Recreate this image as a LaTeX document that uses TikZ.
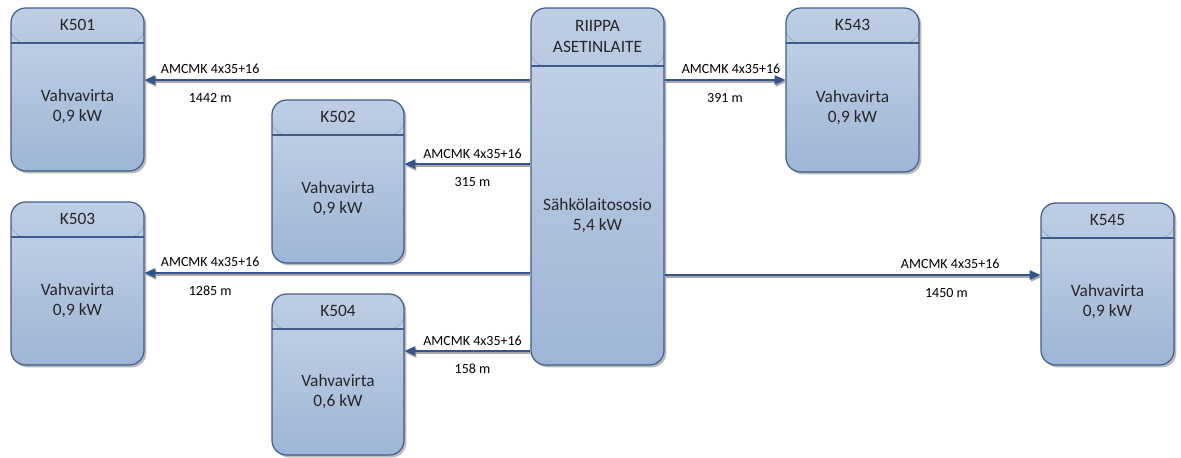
\documentclass[tikz,border=0pt]{standalone}
\usepackage{fontspec}
\setmainfont{Carlito}
\usetikzlibrary{arrows.meta,shadows,positioning}

\definecolor{edgeblue}{RGB}{60,92,140}
\definecolor{bodytop}{RGB}{198,212,232}
\definecolor{bodybot}{RGB}{158,181,213}
\definecolor{headtop}{RGB}{190,206,228}
\definecolor{headbot}{RGB}{154,178,211}
\definecolor{wireblue}{RGB}{52,84,140}

\tikzset{
  unit/.style={draw=edgeblue, line width=0.9pt, rounded corners=11pt,
    minimum width=99.75pt, minimum height=122.25pt, inner sep=0pt,
    top color=bodytop, bottom color=bodybot,
    drop shadow={shadow xshift=1.8pt, shadow yshift=-1.8pt, opacity=0.45, fill=black!60},
    path picture={
      \fill[top color=headtop, bottom color=headbot]
        (path picture bounding box.north west) rectangle ([yshift=-#1]path picture bounding box.north east);
      \draw[edgeblue, line width=0.9pt]
        ([yshift=-#1]path picture bounding box.north west) -- ([yshift=-#1]path picture bounding box.north east);
    }},
  unit/.default=26.25pt,
  title/.style={font=\fontsize{13}{16}\selectfont, align=center, text=black!85},
  body/.style={font=\fontsize{13}{15}\selectfont, align=center, text=black!85},
  feed/.style={wireblue, line width=0.9pt, -{Triangle[length=8pt,width=7pt]},
    preaction={draw=black!35, line width=1.1pt, transform canvas={shift={(0.8pt,-1.4pt)}}}},
  cable/.style={above=2pt, inner sep=2pt, font=\fontsize{10.5}{12}\selectfont, text=black},
  cablelen/.style={below=7.3pt, inner sep=2pt, font=\fontsize{10.5}{12}\selectfont, text=black},
}

\begin{document}
\begin{tikzpicture}[x=0.75pt, y=-0.75pt]
  \useasboundingbox (0,0) rectangle (1181,457);

  % main distribution board
  \node[unit=43.5pt, minimum height=267.75pt] (hub) at (597.5,186.5) {};
  \node[title] (hubt) at ([yshift=-21.75pt]hub.north) {RIIPPA\\ASETINLAITE};
  \node[body] (hubb) at ([yshift=-21.75pt]hub.center) {Sähkölaitososio\\5,4 kW};

  % left column
  \node[unit] (k501) at (77.5,89.5) {};
  \node[title] (k501t) at ([yshift=-13.1pt]k501.north) {K501};
  \node[body] (k501b) at ([yshift=-13.1pt]k501.center) {Vahvavirta\\0,9 kW};

  \node[unit] (k503) at (77.5,283.5) {};
  \node[title] (k503t) at ([yshift=-13.1pt]k503.north) {K503};
  \node[body] (k503b) at ([yshift=-13.1pt]k503.center) {Vahvavirta\\0,9 kW};

  % middle column
  \node[unit, minimum width=99pt] (k502) at (338,181.5) {};
  \node[title] (k502t) at ([yshift=-13.1pt]k502.north) {K502};
  \node[body] (k502b) at ([yshift=-13.1pt]k502.center) {Vahvavirta\\0,9 kW};

  \node[unit, minimum width=99pt, minimum height=120.75pt] (k504) at (338,374.5) {};
  \node[title] (k504t) at ([yshift=-13.1pt]k504.north) {K504};
  \node[body] (k504b) at ([yshift=-13.1pt]k504.center) {Vahvavirta\\0,6 kW};

  % right column
  \node[unit, minimum height=123pt] (k543) at (852.5,90) {};
  \node[title] (k543t) at ([yshift=-13.1pt]k543.north) {K543};
  \node[body] (k543b) at ([yshift=-13.1pt]k543.center) {Vahvavirta\\0,9 kW};

  \node[unit, minimum height=121.5pt] (k545) at (1107.5,284) {};
  \node[title] (k545t) at ([yshift=-13.1pt]k545.north) {K545};
  \node[body] (k545b) at ([yshift=-13.1pt]k545.center) {Vahvavirta\\0,9 kW};

  % cable ends
  \coordinate (in501) at ([yshift=7.1pt]k501.east);
  \coordinate (in502) at ([yshift=13.1pt]k502.east);
  \coordinate (in503) at ([yshift=7.9pt]k503.east);
  \coordinate (in504) at ([yshift=17.6pt]k504.east);
  \coordinate (in543) at ([yshift=7.5pt]k543.west);
  \coordinate (in545) at ([yshift=6.75pt]k545.west);

  % cables
  \draw[feed] (hub.west |- in501) -- (in501)
    node[cable, pos=0.83] {AMCMK 4x35+16} node[cablelen, pos=0.83] {1442 m};
  \draw[feed] (hub.west |- in502) -- (in502)
    node[cable, pos=0.46] {AMCMK 4x35+16} node[cablelen, pos=0.46] {315 m};
  \draw[feed] (hub.west |- in503) -- (in503)
    node[cable, pos=0.83] {AMCMK 4x35+16} node[cablelen, pos=0.83] {1285 m};
  \draw[feed] (hub.west |- in504) -- (in504)
    node[cable, pos=0.46] {AMCMK 4x35+16} node[cablelen, pos=0.46] {158 m};
  \draw[feed] (hub.east |- in543) -- (in543)
    node[cable, pos=0.55] {AMCMK 4x35+16} node[cablelen, pos=0.5] {391 m};
  \draw[feed] (hub.east |- in545) -- (in545)
    node[cable, pos=0.76] {AMCMK 4x35+16} node[cablelen, pos=0.75] {1450 m};
\end{tikzpicture}
\end{document}
